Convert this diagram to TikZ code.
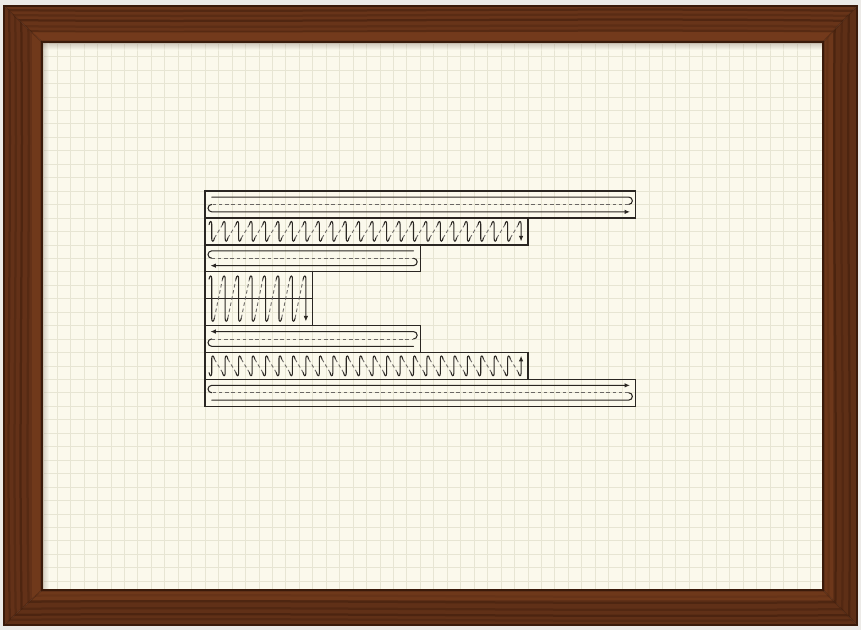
\documentclass[tikz,border=0pt]{standalone}
\usepackage{tikz}
\usetikzlibrary{arrows.meta}

\definecolor{wall}{RGB}{236,234,231}
\definecolor{walnut}{RGB}{104,52,25}
\definecolor{walnutdark}{RGB}{58,26,10}
\definecolor{walnutlight}{RGB}{138,72,34}
\definecolor{paper}{RGB}{251,249,236}
\definecolor{gridc}{RGB}{231,229,211}
\definecolor{ink}{RGB}{42,38,34}

\begin{document}
\begin{tikzpicture}[
  x=0.2mm, y=-0.2mm,
  grain/.style={draw=walnutdark, line width=0.45mm},
  gridline/.style={draw=gridc, line width=0.3pt},
  box/.style={draw=ink, line width=0.8pt},
  pen/.style={draw=ink, line width=0.6pt, line cap=round},
  jump/.style={draw=ink!70, line width=0.5pt, dash pattern=on 0.7mm off 0.55mm},
  tip/.style={-{Latex[length=1.1mm, width=0.9mm]}}
]
\useasboundingbox (0,0) rectangle (861,630);
\fill[wall] (0,0) rectangle (861,630);

% --- 1. Cadre ---
\fill[walnut] (4,6) -- (857,6) -- (823,42) -- (42,42) -- cycle;
\fill[walnut!95!black] (4,6) -- (42,42) -- (42,590) -- (4,625) -- cycle;
\fill[walnut!90!black] (857,6) -- (823,42) -- (823,590) -- (857,625) -- cycle;
\fill[walnut!92!black] (4,625) -- (857,625) -- (823,590) -- (42,590) -- cycle;
\begin{scope}
  \clip (4,6) -- (857,6) -- (823,42) -- (42,42) -- cycle;
  \foreach \y/\o in {10/0.45, 15/0.3, 20/0.5, 26/0.25, 31/0.35}
    \draw[grain, opacity=\o] (0,\y) .. controls (260,\y+3) and (590,\y-3) .. (861,\y+1);
\end{scope}
\begin{scope}
  \clip (4,625) -- (857,625) -- (823,590) -- (42,590) -- cycle;
  \foreach \y/\o in {596/0.3, 602/0.45, 609/0.35, 615/0.5, 620/0.3}
    \draw[grain, opacity=\o] (0,\y) .. controls (280,\y-3) and (560,\y+3) .. (861,\y);
\end{scope}
\begin{scope}
  \clip (4,6) -- (42,42) -- (42,590) -- (4,625) -- cycle;
  \foreach \x/\o in {9/0.4, 15/0.3, 21/0.5, 28/0.3}
    \draw[grain, opacity=\o] (\x,0) .. controls (\x+3,220) and (\x-3,420) .. (\x+1,630);
\end{scope}
\begin{scope}
  \clip (857,6) -- (823,42) -- (823,590) -- (857,625) -- cycle;
  \foreach \x/\o in {828/0.35, 835/0.5, 842/0.3, 849/0.45}
    \draw[grain, opacity=\o] (\x,0) .. controls (\x-3,220) and (\x+3,420) .. (\x,630);
\end{scope}
\draw[walnutlight, line width=1.6mm, opacity=0.35] (36,36) rectangle (829,596);
\draw[walnutdark, line width=0.25mm, opacity=0.4] (4,6) -- (42,42) (857,6) -- (823,42)
  (857,625) -- (823,590) (4,625) -- (42,590);
\draw[walnutdark, line width=0.4mm] (4,6) rectangle (857,625);

% --- 2. Feuille quadrillée ---
\fill[paper] (42,42) rectangle (823,590);
\foreach \k in {-12,...,45}
  \draw[gridline] ({205+13.45*\k},42) -- ({205+13.45*\k},590);
\foreach \k in {-11,...,29}
  \draw[gridline] (42,{191+13.45*\k}) -- (823,{191+13.45*\k});
\shade[top color=walnutdark!70, bottom color=paper, opacity=0.35] (42,42) rectangle (823,50);
\shade[left color=walnutdark!70, right color=paper, opacity=0.3] (42,42) rectangle (49,590);
\draw[walnutdark, line width=0.5mm] (42,42) rectangle (823,590);

% --- 3. Dessin : une case = une unité ---
\begin{scope}[shift={(205,191)}, x=2.69mm, y=-2.69mm]
  % cases
  \draw[box] (0,0) rectangle (32,2);
  \draw[box] (0,2) rectangle (24,4);
  \draw[box] (0,4) rectangle (16,6);
  \draw[box] (0,6) rectangle (8,8);
  \draw[box] (0,8) rectangle (8,10);
  \draw[box] (0,10) rectangle (16,12);
  \draw[box] (0,12) rectangle (24,14);
  \draw[box] (0,14) rectangle (32,16);

  % rangée 1 : aller, retour, aller
  \draw[pen] (0.5,0.45) -- (31.5,0.45) arc[start angle=-90, end angle=90, radius=0.275];
  \draw[jump] (31.5,1) -- (0.5,1);
  \draw[pen, tip] (0.5,1) arc[start angle=270, end angle=90, radius=0.275] -- (31.6,1.55);

  % rangée 2 : traits descendants
  \foreach \k in {0,...,22} {
    \draw[pen] ({\k+0.3},2.5) .. controls ({\k+0.35},2.2) and ({\k+0.5},2.2) .. ({\k+0.5},2.45)
      -- ({\k+0.5},3.55) .. controls ({\k+0.5},3.8) and ({\k+0.65},3.8) .. ({\k+0.7},3.5);
    \draw[jump] ({\k+0.7},3.5) -- ({\k+1.3},2.5);
  }
  \draw[pen, tip] (23.3,2.5) .. controls (23.35,2.2) and (23.5,2.2) .. (23.5,2.45) -- (23.5,3.75);

  % rangée 3
  \draw[pen] (15.5,4.45) -- (0.5,4.45) arc[start angle=270, end angle=90, radius=0.275];
  \draw[jump] (0.5,5) -- (15.5,5);
  \draw[pen, tip] (15.5,5) arc[start angle=-90, end angle=90, radius=0.275] -- (0.4,5.55);

  % rangée 4 : double hauteur
  \foreach \k in {0,...,6} {
    \draw[pen] ({\k+0.3},6.55) .. controls ({\k+0.35},6.25) and ({\k+0.5},6.25) .. ({\k+0.5},6.5)
      -- ({\k+0.5},9.5) .. controls ({\k+0.5},9.75) and ({\k+0.65},9.75) .. ({\k+0.7},9.45);
    \draw[jump] ({\k+0.7},9.45) -- ({\k+1.3},6.55);
  }
  \draw[pen, tip] (7.3,6.55) .. controls (7.35,6.25) and (7.5,6.25) .. (7.5,6.5) -- (7.5,9.7);

  % rangée 5
  \draw[pen] (15.5,11.55) -- (0.5,11.55) arc[start angle=90, end angle=270, radius=0.275];
  \draw[jump] (0.5,11) -- (15.5,11);
  \draw[pen, tip] (15.5,11) arc[start angle=90, end angle=-90, radius=0.275] -- (0.4,10.45);

  % rangée 6 : traits montants
  \foreach \k in {0,...,22} {
    \draw[pen] ({\k+0.3},13.5) .. controls ({\k+0.35},13.8) and ({\k+0.5},13.8) .. ({\k+0.5},13.55)
      -- ({\k+0.5},12.45) .. controls ({\k+0.5},12.2) and ({\k+0.65},12.2) .. ({\k+0.7},12.5);
    \draw[jump] ({\k+0.7},12.5) -- ({\k+1.3},13.5);
  }
  \draw[pen, tip] (23.3,13.5) .. controls (23.35,13.8) and (23.5,13.8) .. (23.5,13.55) -- (23.5,12.25);

  % rangée 7
  \draw[pen] (0.5,15.55) -- (31.5,15.55) arc[start angle=90, end angle=-90, radius=0.275];
  \draw[jump] (31.5,15) -- (0.5,15);
  \draw[pen, tip] (0.5,15) arc[start angle=90, end angle=270, radius=0.275] -- (31.6,14.45);
\end{scope}

\end{tikzpicture}
\end{document}
